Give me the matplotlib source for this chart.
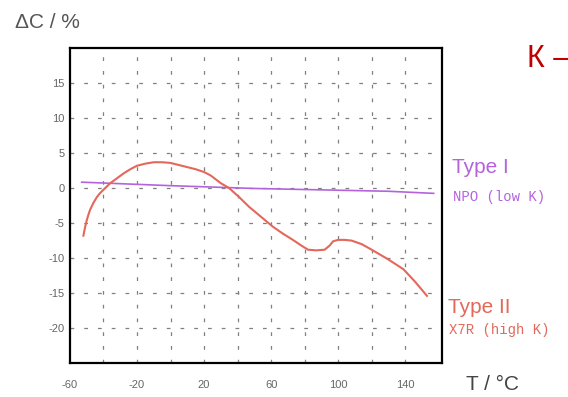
import matplotlib.pyplot as plt

# dades llegides del gràfic
# Type II (X7R, high K)
t_x7r = [-52, -51, -50, -49, -48, -46, -44, -42, -39, -36, -32, -28, -24, -20, -15, -10, -5, 0, 5, 10, 15, 20,
         24, 30, 35, 41, 47, 54, 61, 67, 73, 78, 82, 87, 92, 95, 97, 100, 104, 108, 114, 120, 130, 139, 146, 153]
dc_x7r = [-6.8, -5.6, -4.6, -3.8, -3.1, -2.1, -1.3, -0.7, 0.0, 0.7, 1.4, 2.1, 2.7, 3.2, 3.5, 3.7, 3.7, 3.6, 3.3,
          3.0, 2.7, 2.3, 1.8, 0.7, 0.0, -1.3, -2.7, -4.1, -5.5, -6.5, -7.4, -8.2, -8.8, -8.9, -8.8, -8.2, -7.6,
          -7.4, -7.4, -7.5, -8.0, -8.8, -10.2, -11.6, -13.4, -15.4]

# Type I (NPO, low K)
t_npo = [-53, 0, 50, 100, 130, 157]
dc_npo = [0.85, 0.35, -0.05, -0.3, -0.45, -0.75]

xticks = [-60, -20, 20, 60, 100, 140]
yticks = [-20, -15, -10, -5, 0, 5, 10, 15]
xgrid = [-40, -20, 0, 20, 40, 60, 80, 100, 120, 140]

col_x7r = '#e4685a'
col_npo = '#b463dc'

plt.rcParams['font.family'] = ['Liberation Sans', 'DejaVu Sans']
plt.rcParams['axes.unicode_minus'] = False

fig = plt.figure(figsize=(5.68, 3.97), dpi=100)
ax = fig.add_axes([0.1232, 0.0856, 0.655, 0.793])

# graella puntejada
for y in yticks:
    ax.axhline(y, color='#808080', lw=0.9, ls=(0, (3, 8)), zorder=1)
for x in xgrid:
    ax.axvline(x, color='#808080', lw=0.9, ls=(0, (3, 8)), zorder=1)

ax.plot(t_npo, dc_npo, color=col_npo, lw=1.2, zorder=3)
ax.plot(t_x7r, dc_x7r, color=col_x7r, lw=1.5, zorder=4)

ax.set_xlim(-60, 162)
ax.set_ylim(-25, 20)
ax.set_xticks(xticks)
ax.set_yticks(yticks)
ax.tick_params(length=0, labelsize=8, labelcolor='#666666')
ax.tick_params(axis='x', pad=12)
ax.tick_params(axis='y', pad=4)
for s in ax.spines.values():
    s.set_color('black')
    s.set_linewidth(1.6)

# textos
fig.text(15 / 568, 1 - 22 / 397, 'ΔC / %', fontsize=15, color='#555555', va='center', ha='left')
fig.text(466 / 568, 1 - 384 / 397, 'T / °C', fontsize=15, color='#444444', va='center', ha='left')
fig.text(452 / 568, 1 - 173 / 397, 'Type I', fontsize=15, color=col_npo, va='baseline', ha='left')
fig.text(453 / 568, 1 - 197 / 397, 'NPO (low K)', fontsize=10, color=col_npo, va='center', ha='left',
         family=['Liberation Mono', 'DejaVu Sans Mono'])
fig.text(448 / 568, 1 - 313 / 397, 'Type II', fontsize=15, color=col_x7r, va='baseline', ha='left')
fig.text(449 / 568, 1 - 330 / 397, 'X7R (high K)', fontsize=10, color=col_x7r, va='center', ha='left',
         family=['Liberation Mono', 'DejaVu Sans Mono'])
# text tallat a la vora dreta, com a l'original
fig.text(527 / 568, 1 - 67 / 397, 'К –', fontsize=22, color='#c00000', va='baseline', ha='left')

fig.savefig('out.png', dpi=100)
